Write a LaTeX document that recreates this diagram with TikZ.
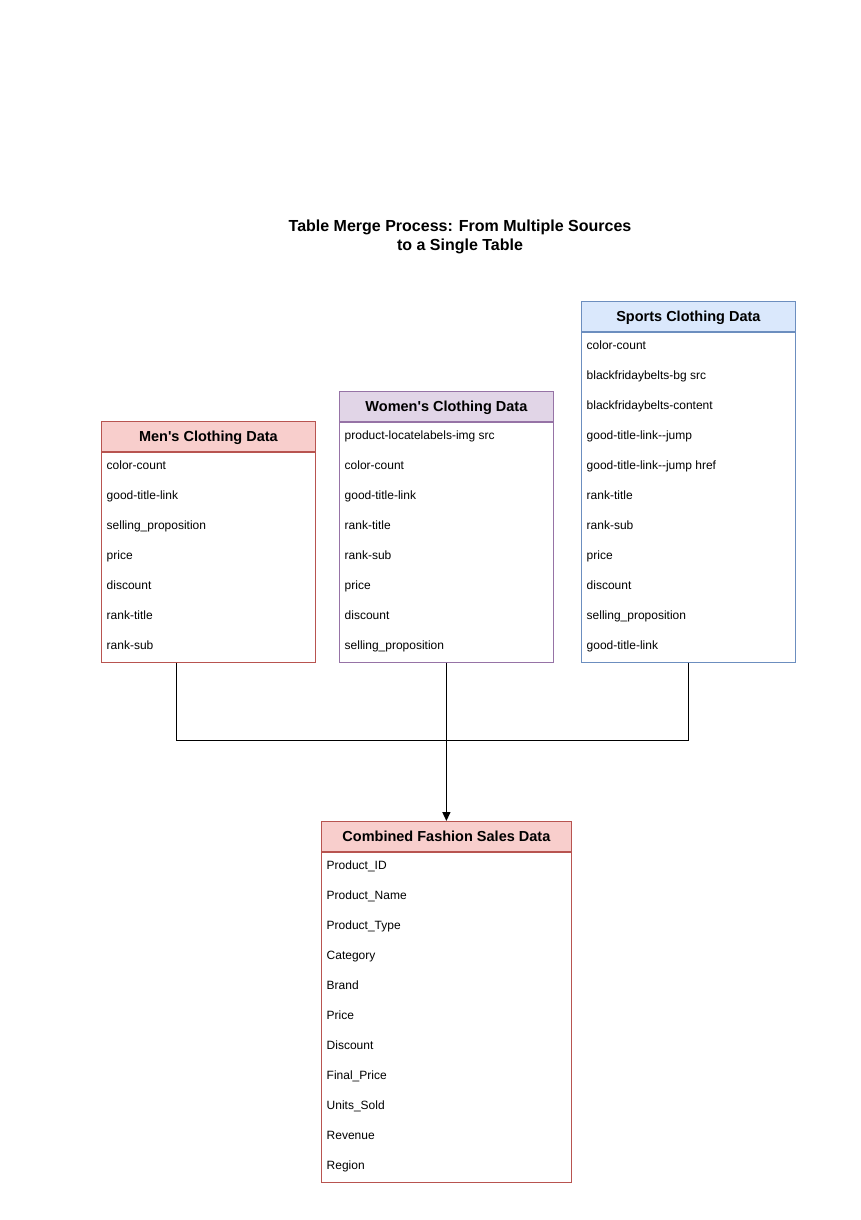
\documentclass[tikz,border=0pt]{standalone}
\usepackage{fontspec}
\setmainfont{Liberation Sans}
\usetikzlibrary{arrows.meta,calc}
\definecolor{redfill}{HTML}{F8CECC}
\definecolor{redline}{HTML}{B85450}
\definecolor{purfill}{HTML}{E1D5E7}
\definecolor{purline}{HTML}{9673A6}
\definecolor{bluefill}{HTML}{DAE8FC}
\definecolor{blueline}{HTML}{6C8EBF}
\tikzset{
  hdr/.style={draw, rectangle, inner sep=0pt, minimum height=30pt, line width=0.8pt},
  hdrtxt/.style={anchor=base, inner sep=0pt, font=\fontsize{14.5}{16}\selectfont\bfseries},
  bodybox/.style={draw, rectangle, inner sep=0pt, fill=white, line width=0.8pt},
  redhdr/.style={fill=redfill, draw=redline},
  redbody/.style={draw=redline},
  purhdr/.style={fill=purfill, draw=purline},
  purbody/.style={draw=purline},
  bluehdr/.style={fill=bluefill, draw=blueline},
  bluebody/.style={draw=blueline},
  rowtxt/.style={anchor=base west, inner sep=0pt, font=\fontsize{12}{14}\selectfont},
  conn/.style={draw=black, line width=0.9pt},
}
\newcommand{\dbtable}[8]{%
  \node[hdr, #6hdr, minimum width=#4pt, anchor=north west] (#1h) at (#2,#3) {};
  \node[hdrtxt] (#1t) at ([yshift=-5.3pt]#1h.center) {#5};
  \node[bodybox, #6body, minimum width=#4pt, minimum height=#7*30pt, anchor=north west] (#1) at (#1h.south west) {};
  \foreach \t [count=\i] in {#8} {
    \node[rowtxt] (#1r\i) at ([xshift=5.5pt, yshift={12.7pt-\i*30pt}]#1.north west) {\t};
  }
}
\begin{document}
\begin{tikzpicture}[x=1pt,y=-1pt]
\useasboundingbox (0,0) rectangle (860,1220);
\node[font=\fontsize{16}{19}\selectfont\bfseries, align=center] (title) at (460,237) {Table Merge Process: From Multiple Sources\\to a Single Table};

\dbtable{men}{101}{421}{214}{Men\textquotesingle s Clothing Data}{red}{7}{color-count,good-title-link,selling\_proposition,price,discount,rank-title,rank-sub}
\dbtable{women}{339}{391}{214}{Women\textquotesingle s Clothing Data}{pur}{8}{product-locatelabels-img src,color-count,good-title-link,rank-title,rank-sub,price,discount,selling\_proposition}
\dbtable{sports}{581}{301}{214}{Sports Clothing Data}{blue}{11}{color-count,blackfridaybelts-bg src,blackfridaybelts-content,good-title-link{-}{-}jump,good-title-link{-}{-}jump href,rank-title,rank-sub,price,discount,selling\_proposition,good-title-link}
\dbtable{comb}{321}{821}{250}{Combined Fashion Sales Data}{red}{11}{Product\_ID,Product\_Name,Product\_Type,Category,Brand,Price,Discount,Final\_Price,Units\_Sold,Revenue,Region}

\coordinate (join) at (446,740);
\draw[conn] ([xshift=-32pt]men.south) |- (join);
\draw[conn] (sports.south) |- (join);
\draw[conn, line width=1.4pt, -{Triangle[length=9pt,width=8pt]}] (women.south) -- (combh.north);
\end{tikzpicture}
\end{document}
